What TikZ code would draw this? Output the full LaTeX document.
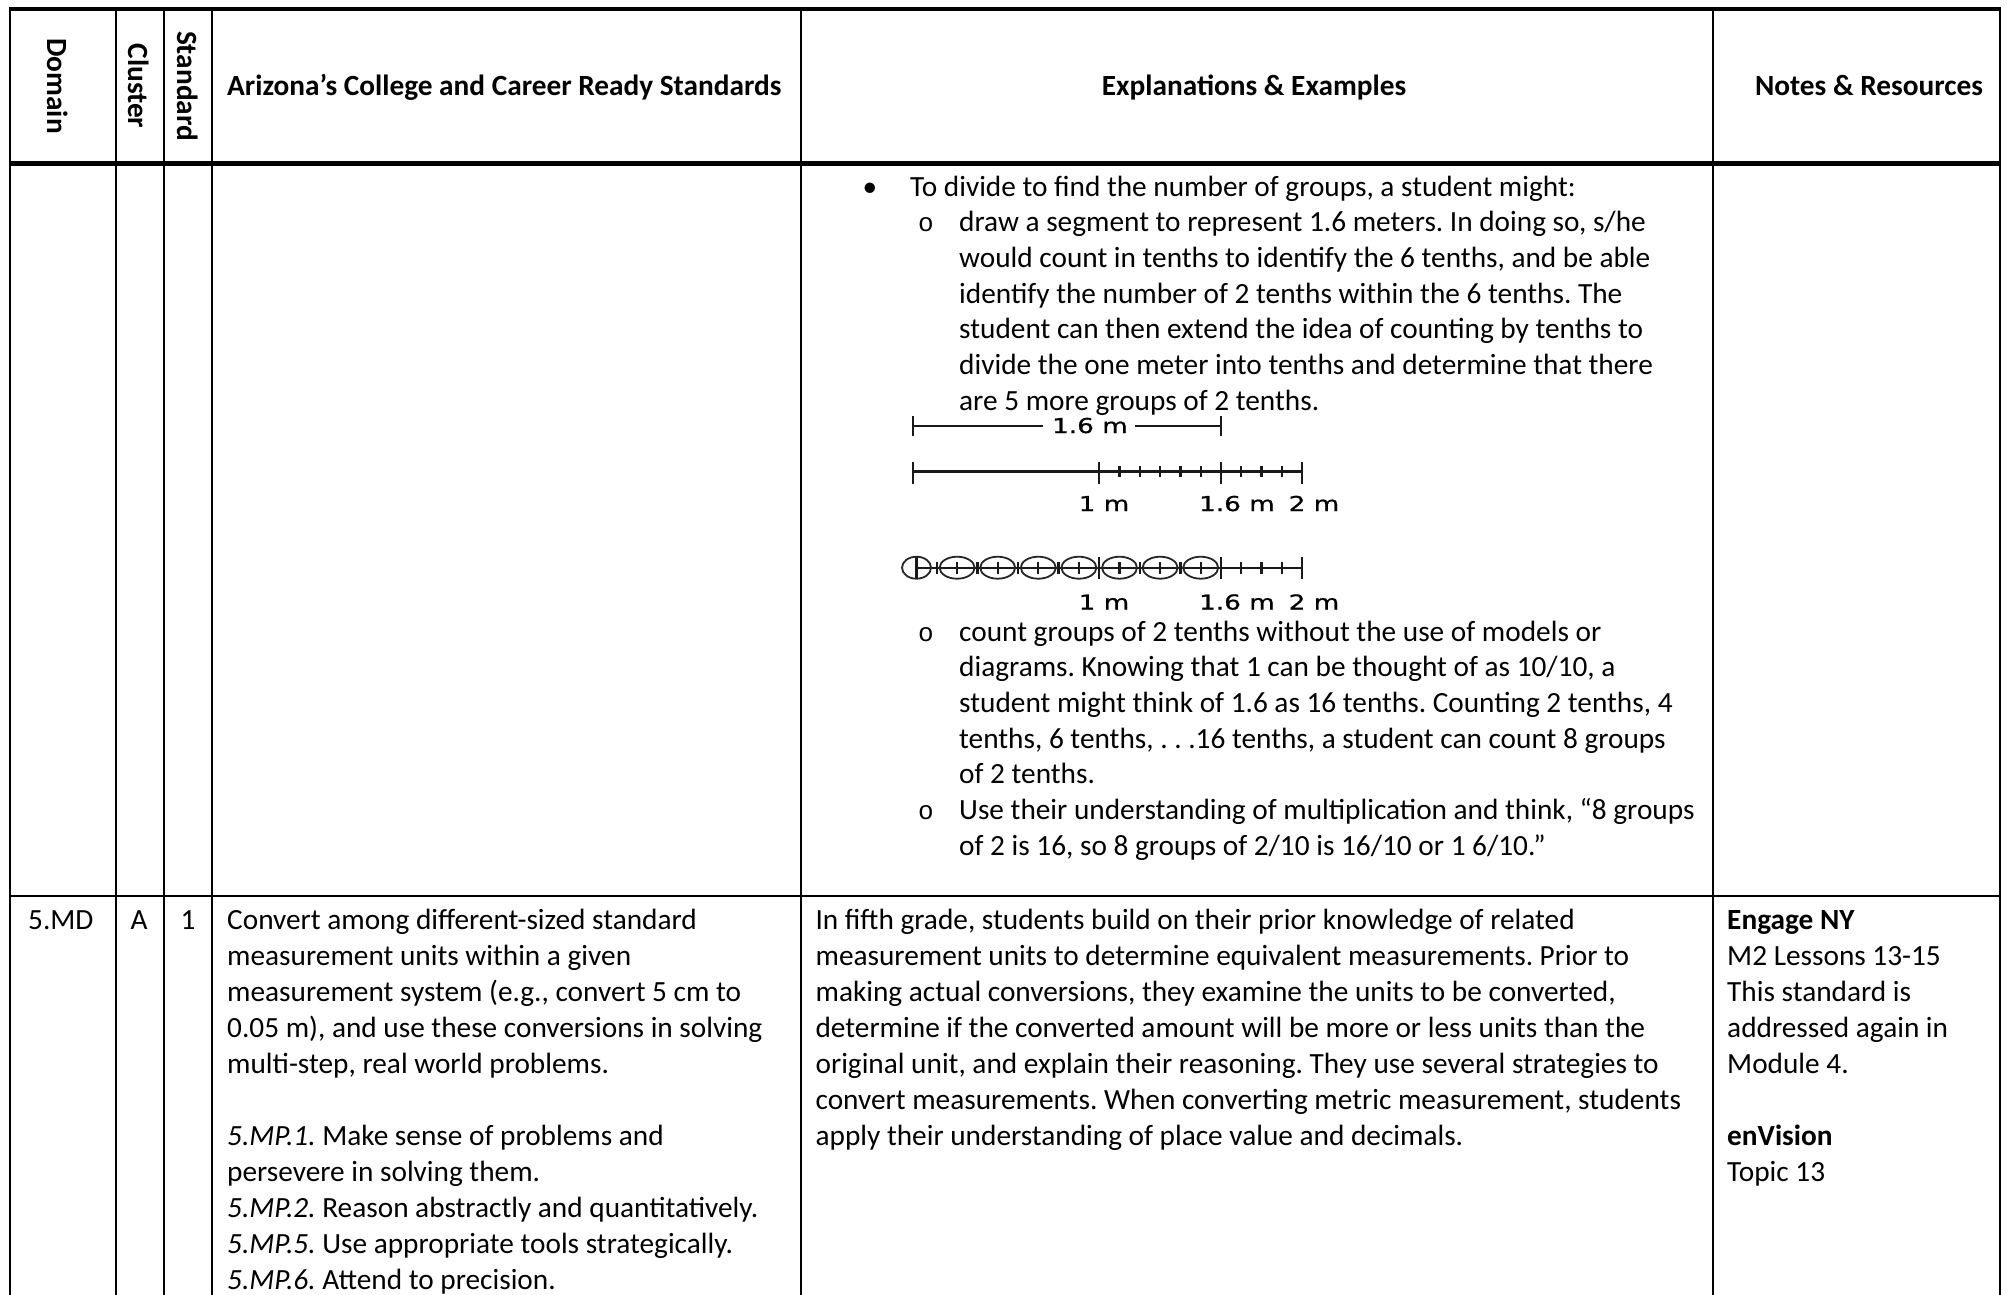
\documentclass[tikz,border=0pt]{standalone}
\usepackage{fontspec}
\setmainfont{Carlito}
\newfontfamily\nlfont[FakeBold=0.8]{DejaVu Sans}
\newfontfamily\monofnt{Liberation Mono}
\frenchspacing
\begin{document}
\frenchspacing
\begin{tikzpicture}[x=1pt,y=-1pt,
  txt/.style={inner sep=0pt,anchor=base west,font=\fontsize{29.3}{35.7}\selectfont\frenchspacing},
  hdr/.style={inner sep=0pt,anchor=base,font=\fontsize{29.3}{35.7}\selectfont\bfseries},
  rhdr/.style={inner sep=0pt,anchor=center,rotate=-90,font=\fontsize{29.3}{35.7}\selectfont\bfseries},
  ctxt/.style={inner sep=0pt,anchor=base,font=\fontsize{29.3}{35.7}\selectfont},
  bul/.style={inner sep=0pt,anchor=base,font=\fontsize{29.3}{35.7}\selectfont},
  obul/.style={inner sep=0pt,anchor=base west,font=\fontsize{26}{30}\monofnt},
  grid/.style={line width=2.5pt,black},
  nl/.style={line width=2.3pt,black!90},
  nlab/.style={inner sep=0pt,anchor=base,xscale=1.28,font=\fontsize{20.5}{22}\nlfont,black}]
\useasboundingbox (0,0) rectangle (2007,1295);
\fill[white] (0,0) rectangle (2007,1295);
% grid lines
\foreach \x [count=\i] in {10,116,164,212,801,1713,2000}{
  \coordinate (vt\i) at (\x,9); \coordinate (vb\i) at (\x,1295);
  \draw[grid] (vt\i) -- (vb\i);
}
\coordinate (tl) at (8.75,9); \coordinate (tr) at (2001.25,9);
\draw[line width=3.5pt] (tl) -- (tr);
\coordinate (hl) at (8.75,163); \coordinate (hr) at (2001.25,163);
\draw[line width=5pt] (hl) -- (hr);
\coordinate (rl) at (8.75,896); \coordinate (rr) at (2001.25,896);
\draw[grid] (rl) -- (rr);
% headers
\node[rhdr] (hdom) at (58,86) {Domain};
\node[rhdr] (hclu) at (139,86) {Cluster};
\node[rhdr] (hstd) at (188,86) {Standard};
\node[hdr,anchor=base west] (haz) at (227,96) {Arizona’s College and Career Ready Standards};
\node[hdr] (hex) at (1254,96) {Explanations \& Examples};
\node[hdr] (hno) at (1869,96) {Notes \& Resources};
% row 1 explanations
\node[bul] (b1) at (870,196) {•};
\node[txt] (e1) at (910,196) {To divide to find the number of groups, a student might:};
\node[obul] (o1) at (918,231.7) {o};
\foreach \t [count=\i] in {{draw a segment to represent 1.6 meters. In doing so, s/he},
  {would count in tenths to identify the 6 tenths, and be able},
  {identify the number of 2 tenths within the 6 tenths. The},
  {student can then extend the idea of counting by tenths to},
  {divide the one meter into tenths and determine that there},
  {are 5 more groups of 2 tenths.}}{
  \node[txt] (ea\i) at (959,{231.7+35.7*(\i-1)}) {\t};
}
\node[obul] (o2) at (918,641) {o};
\foreach \t [count=\i] in {{count groups of 2 tenths without the use of models or},
  {diagrams. Knowing that 1 can be thought of as 10/10, a},
  {student might think of 1.6 as 16 tenths. Counting 2 tenths, 4},
  {tenths, 6 tenths, . . .16 tenths, a student can count 8 groups},
  {of 2 tenths.}}{
  \node[txt] (eb\i) at (959,{641+35.7*(\i-1)}) {\t};
}
\node[obul] (o3) at (918,819.5) {o};
\node[txt] (ec1) at (959,819.5) {Use their understanding of multiplication and think, “8 groups};
\node[txt] (ec2) at (959,855.2) {of 2 is 16, so 8 groups of 2/10 is 16/10 or 1 6/10.”};
% number line diagrams
\def\st{20.3}
% bracket
\coordinate (ba) at (913.3,426); \coordinate (bb) at (1221,426);
\node[nlab] (blab) at (1090,433) {1.6 m};
\draw[nl] (ba) -- (1043,426);
\draw[nl] (1135,426) -- (bb);
\draw[nl] (913.3,416) -- (913.3,436);
\draw[nl] (1221,416) -- (1221,436);
% line 1
\coordinate (la) at (913.3,471.5); \coordinate (lb) at (1302.2,471.5);
\draw[nl] (la) -- (lb);
\foreach \x in {913.3,1099.2,1221,1302.2}{\draw[nl] (\x,461.5) -- (\x,483.5);}
\foreach \k in {1,...,5}{\draw[nl] ({1099.2+\k*\st},465.5) -- ({1099.2+\k*\st},477);}
\foreach \k in {1,...,3}{\draw[nl] ({1221+\k*\st},465.5) -- ({1221+\k*\st},477);}
\node[nlab] (l1a) at (1104,511) {1 m};
\node[nlab] (l1b) at (1237,511) {1.6 m};
\node[nlab] (l1c) at (1314,511) {2 m};
% line 2
\coordinate (ma) at (916.5,567.7); \coordinate (mb) at (1302.2,567.7);
\draw[nl] (ma) -- (mb);
\foreach \k in {0,9,15,19}{\draw[nl] ({916.5+\k*\st},557) -- ({916.5+\k*\st},579);}
\foreach \k in {1,...,8,10,11,12,13,14,16,17,18}{\draw[nl] ({916.5+\k*\st},562) -- ({916.5+\k*\st},573.5);}
\draw[line width=1.8pt,black!85] (916.5,567.7) ellipse [x radius=14.5,y radius=11];
\foreach \k in {2,4,...,14}{\draw[line width=1.8pt,black!85] ({916.5+\k*\st},567.7) ellipse [x radius=17.5,y radius=11];}
\node[nlab] (l2a) at (1104,609.5) {1 m};
\node[nlab] (l2b) at (1237,609.5) {1.6 m};
\node[nlab] (l2c) at (1314,609.5) {2 m};
% row 2
\node[txt] (dom) at (28,929) {5.MD};
\node[ctxt] (clu) at (139,929) {A};
\node[ctxt] (std) at (188,929) {1};
\foreach \t [count=\i] in {{Convert among different-sized standard},
  {measurement units within a given},
  {measurement system (e.g., convert 5 cm to},
  {0.05 m), and use these conversions in solving},
  {multi-step, real world problems.},
  {},
  {\textit{5.MP.1.} Make sense of problems and},
  {persevere in solving them.},
  {\textit{5.MP.2.} Reason abstractly and quantitatively.},
  {\textit{5.MP.5.} Use appropriate tools strategically.},
  {\textit{5.MP.6.} Attend to precision.}}{
  \node[txt] (az\i) at (227,{929+36*(\i-1)}) {\t};
}
\foreach \t [count=\i] in {{In fifth grade, students build on their prior knowledge of related},
  {measurement units to determine equivalent measurements. Prior to},
  {making actual conversions, they examine the units to be converted,},
  {determine if the converted amount will be more or less units than the},
  {original unit, and explain their reasoning. They use several strategies to},
  {convert measurements. When converting metric measurement, students},
  {apply their understanding of place value and decimals.}}{
  \node[txt] (ex\i) at (815.4,{929+36*(\i-1)}) {\t};
}
\foreach \t [count=\i] in {{\textbf{Engage NY}},{M2 Lessons 13-15},{This standard is},
  {addressed again in},{Module 4.},{},{\textbf{enVision}},{Topic 13}}{
  \node[txt] (nt\i) at (1727,{929+36*(\i-1)}) {\t};
}
\end{tikzpicture}
\end{document}
